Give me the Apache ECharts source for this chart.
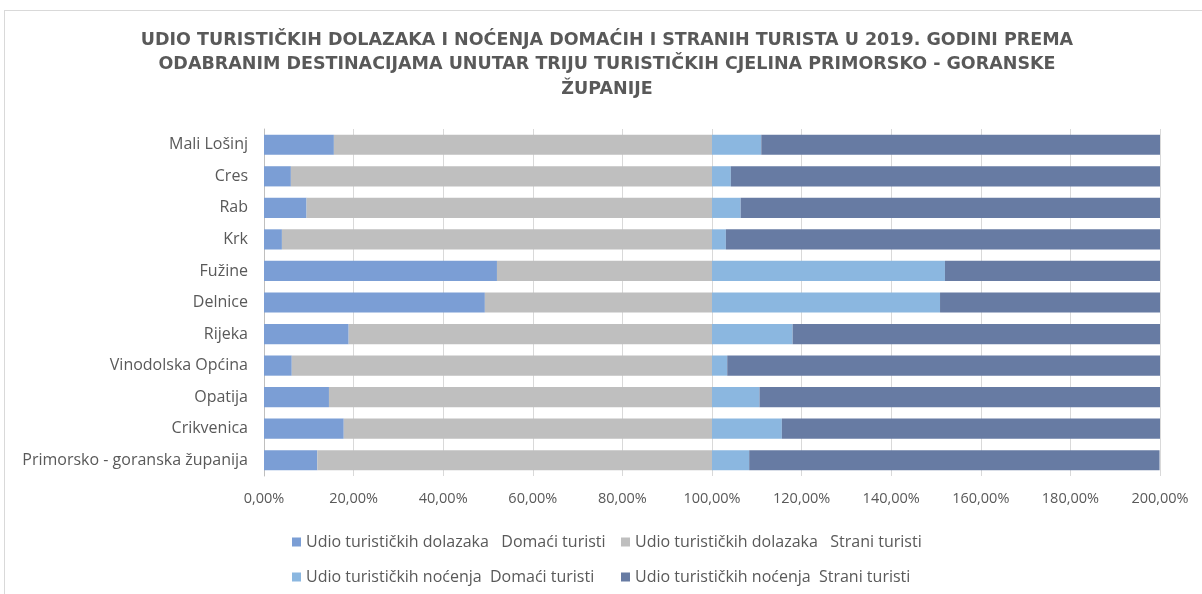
<!DOCTYPE html>
<html><head><meta charset="utf-8">
<script src="https://cdn.jsdelivr.net/npm/echarts@6/dist/echarts.min.js"></script>
<style>
html,body{margin:0;padding:0;background:#fff;}
#frame{position:absolute;left:4px;top:10px;width:1220px;height:620px;border:1px solid #d9d9d9;box-sizing:border-box;}
#c{position:absolute;left:0;top:0;width:1202px;height:594px;}
</style></head>
<body><div id="frame"></div><div id="c"></div>
<script>
const categories = ['Mali Lošinj','Cres','Rab','Krk','Fužine','Delnice','Rijeka','Vinodolska Općina','Opatija','Crikvenica','Primorsko - goranska županija'];
const arrivalsDomestic = [15.6, 6.0, 9.5, 4.0, 52.0, 49.3, 18.9, 6.2, 14.5, 17.8, 11.9];
const arrivalsForeign = [84.4, 94.0, 90.5, 96.0, 48.0, 50.7, 81.1, 93.8, 85.5, 82.2, 88.1];
const nightsDomestic = [11.0, 4.2, 6.4, 3.1, 52.0, 50.9, 18.0, 3.4, 10.6, 15.6, 8.3];
const nightsForeign = [89.0, 95.8, 93.6, 96.9, 48.0, 49.1, 82.0, 96.6, 89.4, 84.4, 91.6];
const seriesNames = ['Udio turističkih dolazaka   Domaći turisti','Udio turističkih dolazaka   Strani turisti','Udio turističkih noćenja  Domaći turisti','Udio turističkih noćenja  Strani turisti'];
const titleText = 'UDIO TURISTIČKIH DOLAZAKA I NOĆENJA DOMAĆIH I STRANIH TURISTA U 2019. GODINI PREMA\nODABRANIM DESTINACIJAMA UNUTAR TRIJU TURISTIČKIH CJELINA PRIMORSKO - GORANSKE\nŽUPANIJE';

const colors = ['#7b9ed5','#bfbfbf','#8bb7e0','#677ba3'];
const dataArr = [arrivalsDomestic, arrivalsForeign, nightsDomestic, nightsForeign];
const font = 'Open Sans';
const legendPos = [[287,529],[616,529],[287,564],[616,564]];
const chart = echarts.init(document.getElementById('c'));
chart.setOption({
  animation:false,
  color: colors,
  graphic:[{type:'text',x:607,y:28,
    style:{text:titleText,align:'center',fontFamily:'DejaVu Sans',fontWeight:'bold',fontSize:17.5,fill:'#595959',lineHeight:24.5}}],
  legend: seriesNames.map((n,i)=>({data:[n],left:legendPos[i][0],top:legendPos[i][1],itemWidth:9,itemHeight:9,icon:'rect',
     textStyle:{fontFamily:font,fontSize:16,color:'#595959'}})),
  grid:{left:264,right:42,top:129,bottom:118,containLabel:false},
  xAxis:{type:'value',min:0,max:200,interval:20,
    axisLine:{show:false},axisTick:{show:false},
    splitLine:{lineStyle:{color:'#d9d9d9'}},
    axisLabel:{fontFamily:font,fontSize:14.5,color:'#595959',margin:15,
      formatter:v=>v.toFixed(2).replace('.',',')+'%'}},
  yAxis:{type:'category',data:categories,inverse:true,
    axisLine:{lineStyle:{color:'#bfbfbf'}},axisTick:{show:false},
    axisLabel:{fontFamily:font,fontSize:16,color:'#595959',margin:16}},
  series: seriesNames.map((n,i)=>({name:n,type:'bar',stack:'all',data:dataArr[i],
    barCategoryGap:'36%',itemStyle:{color:colors[i]}}))
});
</script></body></html>
